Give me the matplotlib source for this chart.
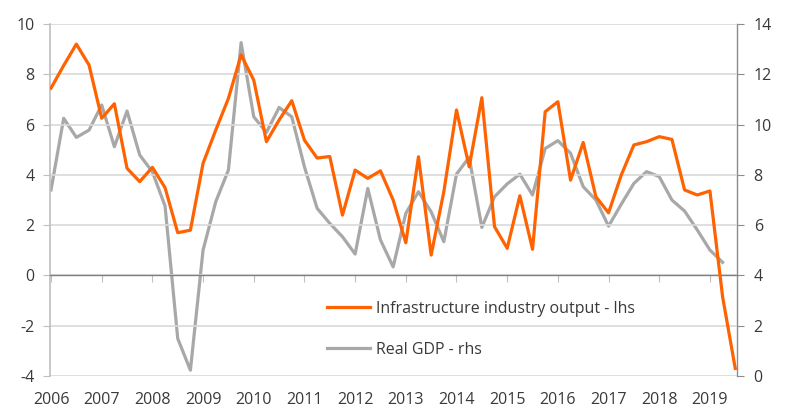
import numpy as np
import matplotlib
matplotlib.use("Agg")
import matplotlib.pyplot as plt

plt.rcParams['font.family'] = ['Open Sans', 'DejaVu Sans']
plt.rcParams['axes.unicode_minus'] = False

# quarterly data, 2006Q1 onwards
infra_output = [7.45, 8.35, 9.2, 8.37, 6.25, 6.83, 4.26, 3.73, 4.3, 3.49,
                1.7, 1.8, 4.46, 5.78, 7.04, 8.77, 7.77, 5.32, 6.18, 6.95,
                5.38, 4.67, 4.73, 2.4, 4.19, 3.86, 4.16, 3.0, 1.3, 4.72,
                0.81, 3.33, 6.58, 4.32, 7.07, 1.94, 1.08, 3.17, 1.04, 6.51,
                6.91, 3.79, 5.29, 3.13, 2.49, 3.99, 5.19, 5.32, 5.52, 5.41,
                3.40, 3.20, 3.36, -0.85, -3.70]
real_gdp = [7.40, 10.25, 9.49, 9.78, 10.78, 9.12, 10.54, 8.79, 8.12, 6.76,
            1.49, 0.23, 5.01, 6.93, 8.19, 13.26, 10.31, 9.69, 10.68, 10.31,
            8.32, 6.67, 6.07, 5.54, 4.85, 7.46, 5.41, 4.34, 6.47, 7.33,
            6.53, 5.34, 8.03, 8.70, 5.91, 7.13, 7.64, 8.03, 7.20, 9.05,
            9.36, 8.86, 7.53, 7.0, 5.96, 6.83, 7.66, 8.13, 7.93, 7.0,
            6.56, 5.81, 5.01, 4.52]
years = list(range(2006, 2020))

orange = '#FF6200'
grey = '#A8A8A8'
text_col = '#3A3A3A'

x_infra = 2006 + np.arange(len(infra_output)) / 4
x_gdp = 2006 + np.arange(len(real_gdp)) / 4

fig = plt.figure(figsize=(8, 4.12), dpi=100)
ax = fig.add_axes([0.0625, 0.0874, 0.8588, 0.8543])
ax2 = ax.twinx()

ax.set_ylim(-4, 10)
ax2.set_ylim(0, 14)
ax.set_xlim(2006 - 0.02, 2019.535)
ax.set_yticks(range(-4, 11, 2))
ax2.set_yticks(range(0, 15, 2))
ax.set_xticks(years)

ax.grid(axis='y', color='#D9D9D9', linewidth=1.2)
ax.set_axisbelow(True)

l1, = ax.plot(x_infra, infra_output, color=orange, lw=2.3, zorder=3,
              label='Infrastructure industry output - lhs')
l2, = ax2.plot(x_gdp, real_gdp, color=grey, lw=2.3, zorder=2,
               label='Real GDP - rhs')
# orange on top of grey
ax.set_zorder(ax2.get_zorder() + 1)
ax.patch.set_visible(False)

ax.spines['top'].set_visible(False)
ax2.spines['top'].set_visible(False)
ax2.spines['left'].set_visible(False)
ax2.spines['bottom'].set_visible(False)
ax.spines['right'].set_visible(False)
ax.spines['left'].set_color('#BFBFBF')
ax.spines['left'].set_linewidth(1.2)
ax2.spines['right'].set_color('#8C8C8C')
ax2.spines['right'].set_linewidth(1.0)
ax.spines['bottom'].set_position(('data', 0))
ax.spines['bottom'].set_color('#808080')
ax.spines['bottom'].set_linewidth(1.0)

ax.tick_params(axis='x', length=5, color='#BFBFBF', pad=79, labelsize=11.5,
               labelcolor=text_col)
ax.tick_params(axis='y', length=5, color='#BFBFBF', pad=6, labelsize=11.5,
               labelcolor=text_col)
ax2.tick_params(axis='y', length=5, color='#8C8C8C', pad=7, labelsize=11.5,
                labelcolor=text_col)

ax.legend(handles=[l1, l2], loc='upper left', bbox_to_anchor=(0.403, 0.213),
          frameon=False, fontsize=11.5, handlelength=2.7, handletextpad=0.35,
          labelspacing=1.55, borderpad=0, borderaxespad=0,
          labelcolor=text_col)

fig.savefig('out.png', dpi=100)
